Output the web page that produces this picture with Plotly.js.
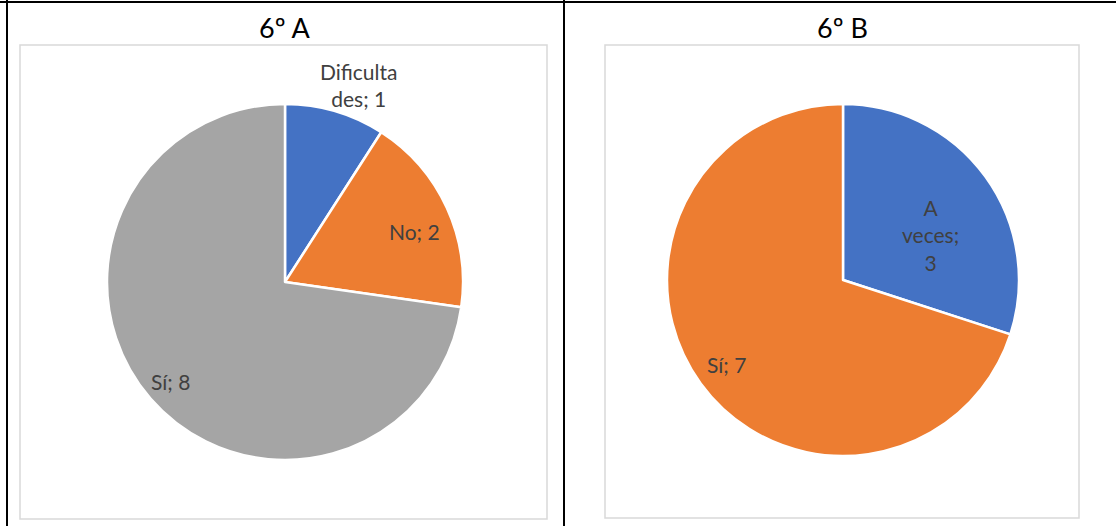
<!DOCTYPE html>
<html>
<head>
<meta charset="utf-8">
<script src="https://cdn.plot.ly/plotly-3.0.1.min.js"></script>
<style>html,body{margin:0;padding:0;background:#fff;}#chart{width:1116px;height:526px;}</style>
</head>
<body>
<div id="chart"></div>
<script>
// Data
const titleA = "6º A";
const labelsA = ["Dificultades", "No", "Sí"];
const textA = ["Dificulta<br>des; 1", "No; 2", "Sí; 8"];
const valuesA = [1, 2, 8];
const titleB = "6º B";
const labelsB = ["A veces", "Sí"];
const textB = ["A<br>veces;<br>3", "Sí; 7"];
const valuesB = [3, 7];

// Styles / layout constants
const W = 1116, H = 526;
const colorsA = ["#4472C4", "#ED7D31", "#A5A5A5"];
const colorsB = ["#4472C4", "#ED7D31"];
const pieA = {cx: 285, cy: 282, r: 178};
const pieB = {cx: 843, cy: 280, r: 176};
const labelRadA = [1.18, 0.78, 0.85], labelRotA = [4, 3, 0];
const labelRadB = [0.56, 0.82], labelRotB = [9, 0];
const FONT = "Lato, 'Liberation Sans', sans-serif";

const px = x => x / W;
const py = y => 1 - y / H;

function domainOf(p) {
  return {x: [px(p.cx - p.r), px(p.cx + p.r)], y: [py(p.cy + p.r), py(p.cy - p.r)]};
}

function pieTrace(labels, values, colors, p) {
  return {
    type: 'pie', labels: labels, values: values, sort: false,
    direction: 'clockwise', rotation: 0,
    marker: {colors: colors, line: {color: '#ffffff', width: 2.5}},
    textinfo: 'none', hoverinfo: 'label+value', showlegend: false,
    domain: domainOf(p)
  };
}

function labelAnns(texts, values, p, rads, rots) {
  const total = values.reduce((a, b) => a + b, 0);
  let cum = 0;
  const out = [];
  values.forEach((v, i) => {
    const ang = ((cum + v / 2) / total * 360 + rots[i]) * Math.PI / 180;
    cum += v;
    const x = p.cx + rads[i] * p.r * Math.sin(ang);
    const y = p.cy - rads[i] * p.r * Math.cos(ang);
    out.push({
      xref: 'paper', yref: 'paper', x: px(x), y: py(y),
      text: texts[i], showarrow: false, align: 'center',
      xanchor: 'center', yanchor: 'middle',
      font: {family: FONT, size: 21, color: '#404040'}
    });
  });
  return out;
}

function box(x0, y0, x1, y1, color, width) {
  return {type: 'rect', xref: 'paper', yref: 'paper', x0: px(x0), x1: px(x1), y0: py(y1), y1: py(y0),
    line: {color: color, width: width}, fillcolor: 'rgba(0,0,0,0)', layer: 'below'};
}
function line(x0, y0, x1, y1) {
  return {type: 'line', xref: 'paper', yref: 'paper', x0: px(x0), x1: px(x1), y0: py(y0), y1: py(y1),
    line: {color: '#000000', width: 2}};
}

const shapes = [
  line(0, 2, W, 2),
  line(7, 0, 7, H),
  line(564, 0, 564, H),
  box(20, 45, 547, 519, '#D9D9D9', 1.5),
  box(605, 45, 1079, 518, '#D9D9D9', 1.5)
];

const annotations = [
  {xref: 'paper', yref: 'paper', x: px(285), y: py(27), text: titleA, showarrow: false,
   xanchor: 'center', yanchor: 'middle', font: {family: FONT, size: 27, color: '#000000'}},
  {xref: 'paper', yref: 'paper', x: px(842), y: py(27), text: titleB, showarrow: false,
   xanchor: 'center', yanchor: 'middle', font: {family: FONT, size: 27, color: '#000000'}}
].concat(labelAnns(textA, valuesA, pieA, labelRadA, labelRotA))
 .concat(labelAnns(textB, valuesB, pieB, labelRadB, labelRotB));

Plotly.newPlot('chart', [pieTrace(labelsA, valuesA, colorsA, pieA), pieTrace(labelsB, valuesB, colorsB, pieB)], {
  width: W, height: H, autosize: false,
  margin: {l: 0, r: 0, t: 0, b: 0},
  paper_bgcolor: '#ffffff', plot_bgcolor: '#ffffff',
  shapes: shapes, annotations: annotations, showlegend: false
}, {displayModeBar: false, staticPlot: true});
</script>
</body>
</html>
